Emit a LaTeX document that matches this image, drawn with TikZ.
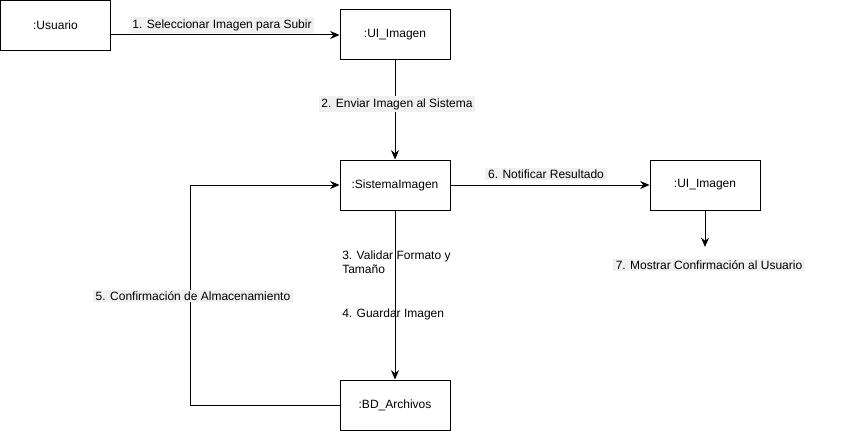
\documentclass[tikz,border=0pt]{standalone}
\usepackage{fontspec}
\setmainfont{Liberation Sans}
\usetikzlibrary{positioning,arrows.meta}
\tikzset{
	obj/.style = {draw, line width=0.75pt, minimum width=82.5pt, minimum height=37.5pt, font=\fontsize{9}{11}\selectfont},
	msg/.style = {fill=gray!12, inner xsep=2pt, inner ysep=1.5pt, font=\fontsize{9}{11}\selectfont},
	nota/.style = {align=left, inner sep=0pt, font=\fontsize{9}{10.5}\selectfont},
	flecha/.style = {line width=0.75pt, -{Stealth[length=7pt,width=6pt]}}
}
\begin{document}
\begin{tikzpicture}[x=0.75pt,y=-0.75pt]
		\useasboundingbox (0,0) rectangle (841,431);
		\node[obj] (usuario) at (55.5,25.5) {:Usuario};
		\node[obj] (ui1) at (395,35) {:UI\_Imagen};
		\node[obj] (sis) at (395,185) {:SistemaImagen};
		\node[obj] (ui2) at (705,185) {:UI\_Imagen};
		\node[obj] (bd) at (395,405) {:BD\_Archivos};
		\coordinate (giro) at (190,0);
		\coordinate (fin7) at (705,247);
		\draw[flecha] (usuario.east |- ui1.west) -- (ui1.west);
		\draw[flecha] (ui1.south) -- (sis.north);
		\draw[flecha] (sis.east) -- (ui2.west);
		\draw[flecha] (ui2.south) -- (ui2.south |- fin7);
		\draw[flecha] (sis.south) -- (bd.north);
		\draw[flecha] (bd.west) -| (giro |- sis.west) -- (sis.west);
		\node[msg] (m1) at (222,25) {1. Seleccionar Imagen para Subir};
		\node[msg] (m2) at (397,104) {2. Enviar Imagen al Sistema};
		\node[nota, anchor=west] (m3) at (342,262) {3. Validar Formato y\\Tamaño};
		\node[nota, anchor=west] (m4) at (342,314) {4. Guardar Imagen};
		\node[msg] (m5) at (193,296) {5. Confirmación de Almacenamiento};
		\node[msg] (m6) at (546,174) {6. Notificar Resultado};
		\node[msg] (m7) at (709,265) {7. Mostrar Confirmación al Usuario};
	\end{tikzpicture}
\end{document}
